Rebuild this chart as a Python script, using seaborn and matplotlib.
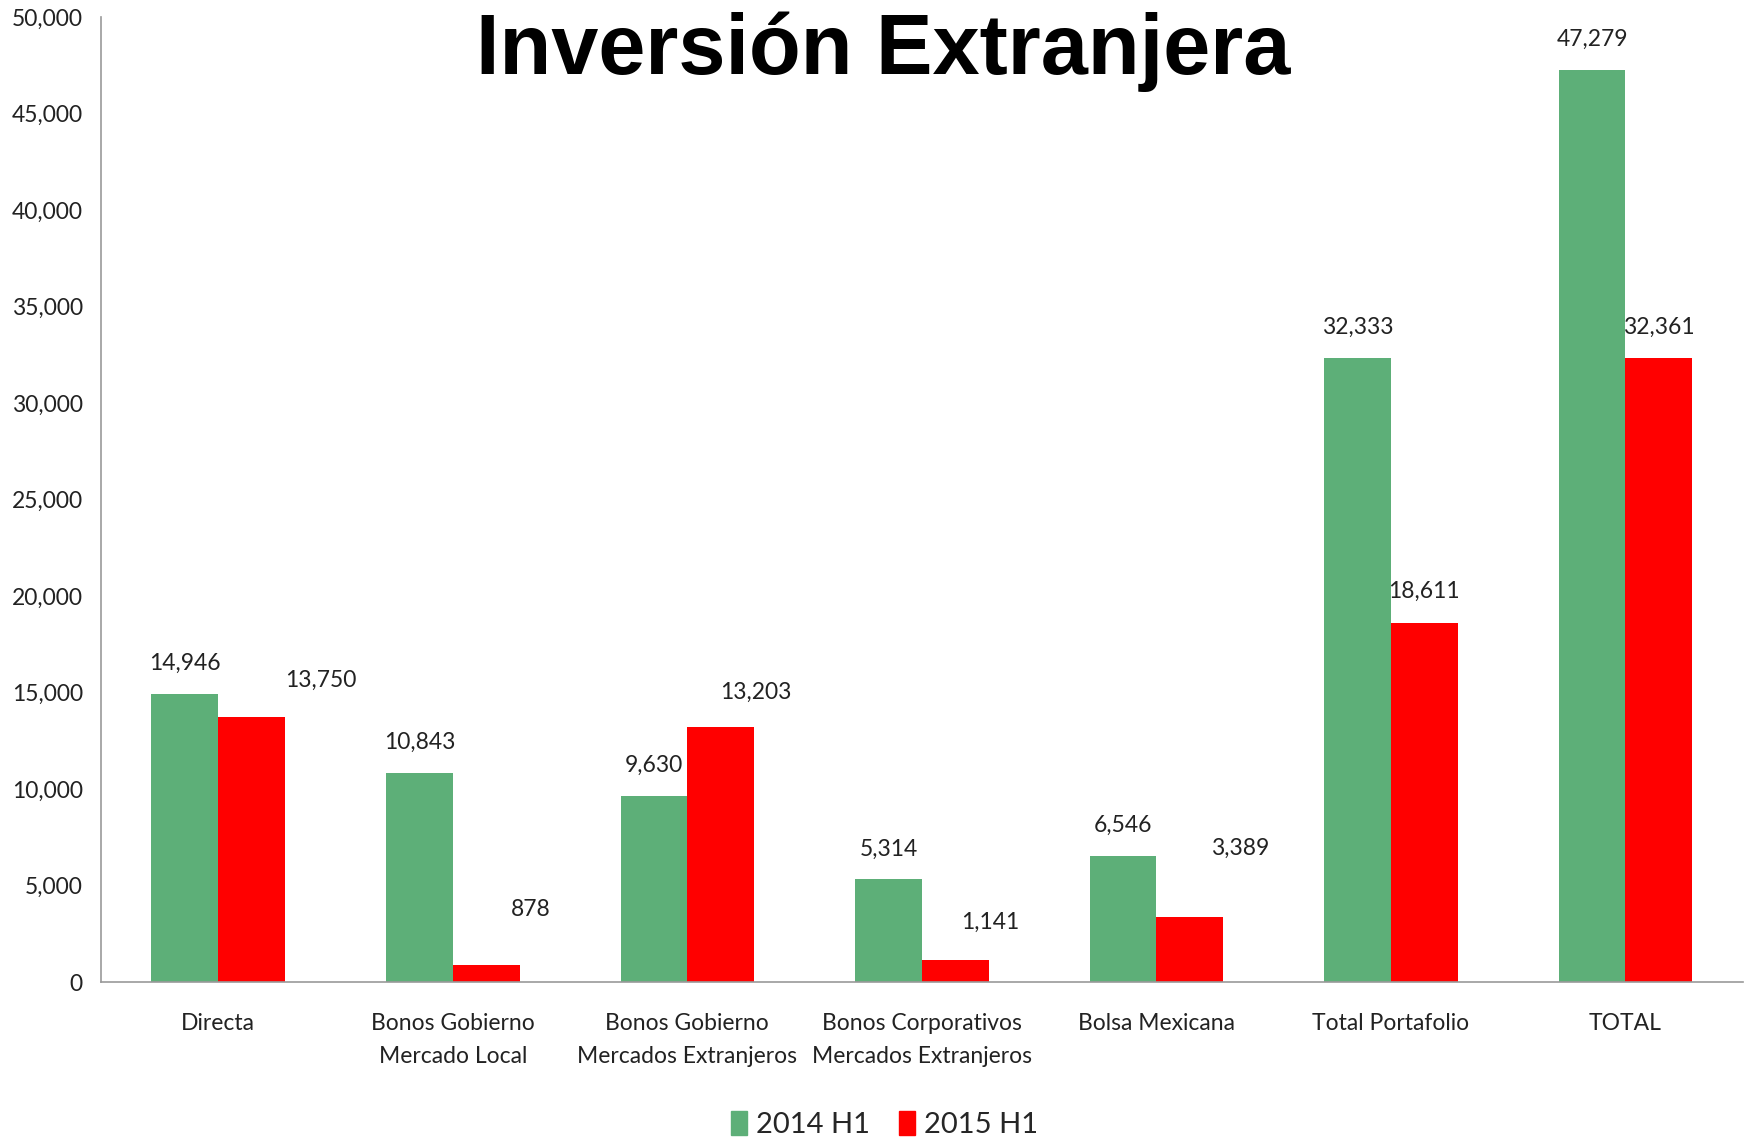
import pandas as pd
import matplotlib.pyplot as plt
import seaborn as sns

categorias = ['Directa', 'Bonos Gobierno\nMercado Local', 'Bonos Gobierno\nMercados Extranjeros',
              'Bonos Corporativos\nMercados Extranjeros', 'Bolsa Mexicana', 'Total Portafolio', 'TOTAL']
series = ['2014 H1', '2015 H1']
v2014 = [14946, 10843, 9630, 5314, 6546, 32333, 47279]
v2015 = [13750, 878, 13203, 1141, 3389, 18611, 32361]
yticks = list(range(0, 50001, 5000))

# label nudges (points) copied from the manually moved excel labels
nudge_2015 = [(50, 26), (32, 40), (25, 25), (25, 27), (36, 49), (0, 23), (0, 22)]

df = pd.DataFrame({
    'cat': categorias * 2,
    'serie': [series[0]] * 7 + [series[1]] * 7,
    'valor': v2014 + v2015,
})

sns.set_style('white')
plt.rcParams['font.family'] = ['Lato', 'DejaVu Sans']

fig = plt.figure(figsize=(17.48, 11.39), dpi=100)
ax = fig.add_axes([0.0578, 0.1378, 0.9392, 0.8472])

sns.barplot(data=df, x='cat', y='valor', hue='serie', palette=['#5DAF78', '#FF0000'],
            width=0.57, saturation=1, ax=ax, legend=False, linewidth=0, edgecolor='none')

ax.set_ylim(0, 50000)
ax.set_xlim(-0.5, 6.5)
ax.set_yticks(yticks)
ax.set_yticklabels([f'{t:,}' for t in yticks], fontsize=16.5, color='#222222')
ax.set_xlabel('')
ax.set_ylabel('')

# category labels centred, ticks on boundaries
ax.set_xticks(range(7))
ax.set_xticklabels(categorias, fontsize=16.5, color='#222222', linespacing=1.75)
ax.tick_params(axis='x', length=0, pad=22)
ax.set_xticks([i - 0.5 for i in range(8)], minor=True)
ax.tick_params(axis='x', which='minor', length=10, color='#999999', width=1.2)
ax.tick_params(axis='y', length=7, color='#999999', width=1.2, pad=6)

for s in ['top', 'right']:
    ax.spines[s].set_visible(False)
for s in ['left', 'bottom']:
    ax.spines[s].set_color('#999999')
    ax.spines[s].set_linewidth(1.2)

c0, c1 = ax.containers[0], ax.containers[1]
for bar, v in zip(c0, v2014):
    ax.annotate(f'{v:,}', (bar.get_x() + bar.get_width() / 2, v), xytext=(0, 22),
                textcoords='offset points', ha='center', va='center', fontsize=16.5, color='#222222')
for bar, v, (dx, dy) in zip(c1, v2015, nudge_2015):
    ax.annotate(f'{v:,}', (bar.get_x() + bar.get_width() / 2, v), xytext=(dx, dy),
                textcoords='offset points', ha='center', va='center', fontsize=16.5, color='#222222')

fig.text(0.505, 0.955, 'Inversión Extranjera', ha='center', va='center', fontsize=61,
         fontweight='bold', family='Liberation Sans', color='black')

handles = [plt.Rectangle((0, 0), 1, 1, color=c) for c in ['#5DAF78', '#FF0000']]
fig.legend(handles, series, loc='center', bbox_to_anchor=(0.506, 0.013), ncol=2, frameon=False,
           fontsize=21, handlelength=0.55, handleheight=0.9, handletextpad=0.3, columnspacing=1.0)

fig.savefig('out.png', dpi=100)
